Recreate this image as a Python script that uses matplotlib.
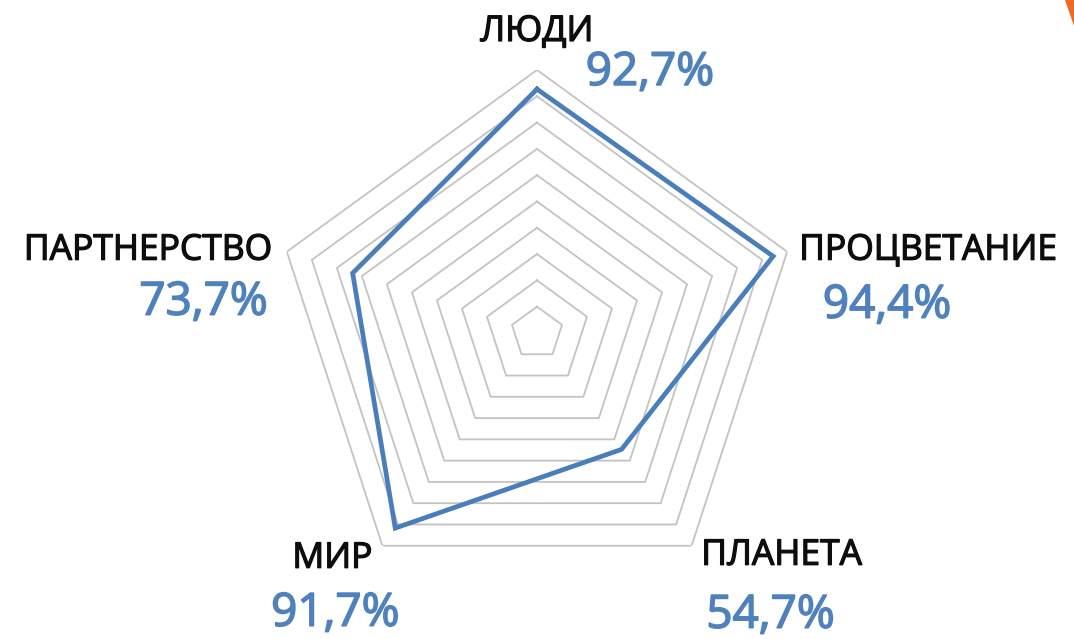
import numpy as np
import matplotlib
matplotlib.use('Agg')
import matplotlib.pyplot as plt
import matplotlib.patheffects as pe
from matplotlib.patches import Polygon

categories = ['ЛЮДИ', 'ПРОЦВЕТАНИЕ', 'ПЛАНЕТА', 'МИР', 'ПАРТНЕРСТВО']
values = [0.927, 0.944, 0.547, 0.917, 0.737]
value_labels = ['92,7%', '94,4%', '54,7%', '91,7%', '73,7%']
levels = np.arange(1, 11) / 10.0

plt.rcParams['font.family'] = ['Open Sans', 'DejaVu Sans']

fig = plt.figure(figsize=(10.74, 6.39), dpi=100)
ax = fig.add_axes([0.2551, 0.0673, 0.4898, 0.8232], projection='polar')
ax.set_theta_offset(np.pi / 2)
ax.set_theta_direction(-1)
ax.set_ylim(0, 1)
ax.grid(False)
ax.spines['polar'].set_visible(False)
ax.set_xticks([])
ax.set_yticks([])
ax.patch.set_visible(False)

n = len(categories)
angles = np.arange(n) * 2 * np.pi / n
closed = np.append(angles, angles[0])

# grid rings
for lv in levels:
    ax.plot(closed, [lv] * (n + 1), color='#c3c3c3', lw=1.3, zorder=1)

# data line
ax.plot(closed, values + values[:1], color='#4a7ebb', lw=3.4,
        solid_joinstyle='miter', zorder=3)

# category + value labels (pixel offsets from outer vertex)
lab_off = [(0, 38, 'center'), (12, 1, 'left'), (90, -10, 'center'),
           (-50, -13, 'center'), (-15, 1, 'right')]
val_off = [(113, -3, 'center'), (100, -54, 'center'), (79, -70, 'center'),
           (-47, -68, 'center'), (-19, -51, 'right')]
for i in range(n):
    dx, dy, ha = lab_off[i]
    ax.annotate(categories[i], xy=(angles[i], 1.0), xytext=(dx, dy),
                textcoords='offset pixels', ha=ha, va='center',
                fontsize=25.5, color='#0d0d0d', annotation_clip=False,
                path_effects=[pe.withStroke(linewidth=0.9, foreground='#0d0d0d')])
    dx, dy, ha = val_off[i]
    ax.annotate(value_labels[i], xy=(angles[i], 1.0), xytext=(dx, dy),
                textcoords='offset pixels', ha=ha, va='center',
                fontsize=33, color='#4f81bd', annotation_clip=False,
                path_effects=[pe.withStroke(linewidth=1.1, foreground='#4f81bd')])

# decorative corner shape cut off at top right
fig.patches.append(Polygon([[0.992, 1.0], [1.0, 1.0], [1.0, 0.96]],
                           closed=True, transform=fig.transFigure,
                           facecolor='#ed6b21', edgecolor='none'))

fig.savefig('out.png', dpi=100)
